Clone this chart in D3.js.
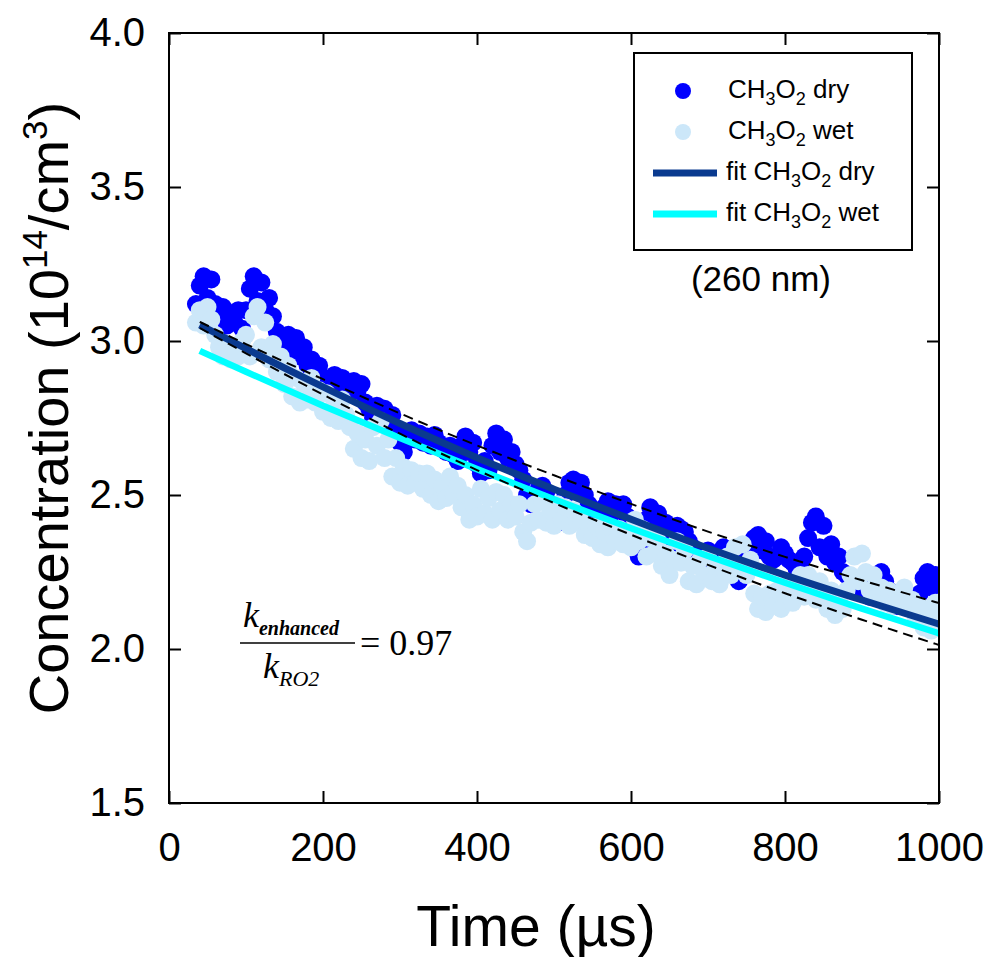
<!DOCTYPE html>
<html>
<head>
<meta charset="utf-8">
<script src="https://cdn.jsdelivr.net/npm/d3@7"></script>
<style>
  html, body { margin: 0; padding: 0; background: #ffffff; }
  svg { display: block; }
</style>
</head>
<body>
<svg id="chart" width="985" height="957"></svg>
<script>
// ---------------- DATA ----------------
const timeUs = [35,40,45,50,55,60,65,70,75,80,85,90,95,100,105,110,115,120,125,130,
  135,140,145,150,155,160,165,170,175,180,185,190,195,200,205,210,215,220,225,230,
  235,240,245,250,255,260,265,270,275,280,285,290,295,300,305,310,315,320,325,330,
  335,340,345,350,355,360,365,370,375,380,385,390,395,400,405,410,415,420,425,430,
  435,440,445,450,455,460,465,470,475,480,485,490,495,500,505,510,515,520,525,530,
  535,540,545,550,555,560,565,570,575,580,585,590,595,600,605,610,615,620,625,630,
  635,640,645,650,655,660,665,670,675,680,685,690,695,700,705,710,715,720,725,730,
  735,740,745,750,755,760,765,770,775,780,785,790,795,800,805,810,815,820,825,830,
  835,840,845,850,855,860,865,870,875,880,885,890,895,900,905,910,915,920,925,930,
  935,940,945,950,955,960,965,970,975,980,985,990,995,1000];

const dryConc = [3.12,3.18,3.21,3.14,3.20,3.12,3.08,3.11,3.05,3.09,
  3.06,3.10,3.04,3.10,3.17,3.21,3.13,3.19,3.10,3.14,
  3.08,3.03,2.99,2.96,3.02,2.97,3.01,2.95,2.98,2.92,
  2.94,2.90,2.92,2.88,2.86,2.88,2.89,2.85,2.88,2.84,
  2.83,2.87,2.84,2.86,2.80,2.78,2.75,2.79,2.76,2.78,
  2.74,2.76,2.71,2.67,2.64,2.68,2.71,2.68,2.70,2.67,
  2.69,2.66,2.695,2.67,2.65,2.64,2.66,2.63,2.61,2.66,
  2.69,2.64,2.67,2.60,2.57,2.61,2.58,2.66,2.70,2.64,
  2.68,2.62,2.64,2.60,2.58,2.55,2.50,2.47,2.50,2.52,
  2.53,2.51,2.47,2.43,2.41,2.44,2.50,2.54,2.55,2.52,
  2.54,2.50,2.47,2.45,2.44,2.44,2.46,2.48,2.44,2.47,
  2.45,2.47,2.43,2.38,2.33,2.30,2.33,2.42,2.46,2.40,
  2.44,2.37,2.41,2.33,2.36,2.40,2.39,2.38,2.35,2.33,
  2.30,2.27,2.31,2.32,2.30,2.29,2.31,2.33,2.30,2.28,
  2.24,2.22,2.27,2.30,2.33,2.36,2.37,2.32,2.35,2.30,
  2.29,2.30,2.33,2.31,2.29,2.28,2.26,2.27,2.30,2.36,
  2.41,2.43,2.33,2.40,2.30,2.34,2.28,2.30,2.25,2.24,
  2.22,2.20,2.21,2.18,2.21,2.17,2.18,2.20,2.25,2.22,
  2.19,2.16,2.14,2.15,2.16,2.17,2.15,2.14,2.18,2.23,
  2.25,2.20,2.24,2.21];

const wetConc = [3.06,3.10,3.05,3.11,3.07,3.02,2.98,2.95,2.99,2.94,
  2.98,2.95,3.00,3.02,2.95,3.08,3.11,2.98,3.06,2.94,
  2.99,2.90,2.95,2.86,2.92,2.82,2.88,2.80,2.86,2.81,
  2.88,2.80,2.84,2.77,2.83,2.75,2.80,2.74,2.81,2.76,
  2.72,2.65,2.70,2.62,2.68,2.61,2.72,2.66,2.74,2.62,
  2.68,2.56,2.62,2.54,2.59,2.53,2.58,2.54,2.57,2.52,
  2.57,2.50,2.55,2.48,2.53,2.49,2.56,2.50,2.53,2.46,
  2.50,2.42,2.47,2.43,2.52,2.44,2.49,2.42,2.51,2.45,
  2.50,2.42,2.47,2.43,2.47,2.38,2.35,2.41,2.47,2.42,
  2.48,2.41,2.45,2.40,2.47,2.42,2.46,2.40,2.45,2.41,
  2.42,2.37,2.40,2.36,2.40,2.34,2.38,2.33,2.39,2.35,
  2.39,2.34,2.37,2.33,2.42,2.35,2.39,2.30,2.36,2.31,
  2.35,2.27,2.31,2.24,2.29,2.35,2.28,2.32,2.22,2.27,
  2.21,2.29,2.24,2.30,2.22,2.27,2.21,2.26,2.30,2.24,
  2.33,2.27,2.34,2.24,2.29,2.18,2.13,2.17,2.12,2.18,
  2.14,2.19,2.13,2.18,2.21,2.15,2.19,2.24,2.17,2.24,
  2.20,2.16,2.22,2.17,2.13,2.19,2.11,2.16,2.13,2.19,
  2.24,2.30,2.22,2.31,2.25,2.19,2.24,2.17,2.20,2.15,
  2.19,2.14,2.18,2.15,2.20,2.14,2.16,2.10,2.14,2.07,
  2.12,2.06,2.15,2.10];

const fitTime = [40,100,200,300,400,500,600,700,800,900,1000];
const fitDry = [3.052,2.975,2.851,2.732,2.621,2.519,2.421,2.327,2.240,2.159,2.081];
const fitWet = [2.968,2.900,2.790,2.685,2.584,2.486,2.392,2.302,2.215,2.131,2.051];
const bandUpper = [3.062,2.990,2.876,2.765,2.661,2.564,2.471,2.381,2.299,2.223,2.149];
const bandLower = [3.042,2.960,2.826,2.699,2.581,2.474,2.371,2.273,2.181,2.095,2.013];

const xTicks = [0,200,400,600,800,1000];
const yTicks = [1.5,2.0,2.5,3.0,3.5,4.0];
const legendItems = [
  {pre:"", label:"dry", kind:"dot", color:"#0000FF"},
  {pre:"", label:"wet", kind:"dot", color:"#CCE7F9"},
  {pre:"fit ", label:"dry", kind:"line", color:"#0A3A8F"},
  {pre:"fit ", label:"wet", kind:"line", color:"#00FFFF"}
];

// ---------------- CHART ----------------
const svg = d3.select("#chart");
const M = {left:169, right:939, top:33, bottom:803};
const x = d3.scaleLinear().domain([0,1000]).range([M.left, M.right]);
const y = d3.scaleLinear().domain([1.5,4.0]).range([M.bottom, M.top]);
const FONT = "Arial, 'Liberation Sans', Helvetica, sans-serif";
const SERIF = "'Times New Roman', 'Liberation Serif', serif";

const plot = svg.append("g");
plot.append("defs").append("clipPath").attr("id","clip")
  .append("rect").attr("x",M.left).attr("y",M.top)
  .attr("width",M.right-M.left).attr("height",M.bottom-M.top);
const data = plot.append("g").attr("clip-path","url(#clip)");

const R = 9;
data.append("g").selectAll("circle").data(timeUs.map((t,i)=>[t,dryConc[i]]))
  .join("circle").attr("cx",d=>x(d[0])).attr("cy",d=>y(d[1])).attr("r",R)
  .attr("fill","#0000FF");
data.append("g").selectAll("circle").data(timeUs.map((t,i)=>[t,wetConc[i]]))
  .join("circle").attr("cx",d=>x(d[0])).attr("cy",d=>y(d[1])).attr("r",R)
  .attr("fill","#CCE7F9");

const line = d3.line().x(d=>x(d[0])).y(d=>y(d[1])).curve(d3.curveMonotoneX);
const pairs = arr => fitTime.map((t,i)=>[t,arr[i]]);
data.append("path").attr("d",line(pairs(fitWet))).attr("fill","none")
  .attr("stroke","#00FFFF").attr("stroke-width",6.5);
data.append("path").attr("d",line(pairs(fitDry))).attr("fill","none")
  .attr("stroke","#0A3A8F").attr("stroke-width",7);
[bandUpper, bandLower].forEach(b=>{
  data.append("path").attr("d",line(pairs(b))).attr("fill","none")
    .attr("stroke","#000").attr("stroke-width",2).attr("stroke-dasharray","10,6");
});

// axes
const axB = d3.axisBottom(x).tickValues(xTicks).tickSize(-12).tickPadding(30).tickFormat(d3.format("d"));
const axT = d3.axisTop(x).tickValues(xTicks).tickSize(-12).tickFormat("");
const axL = d3.axisLeft(y).tickValues(yTicks).tickSize(-12).tickPadding(24).tickFormat(d3.format(".1f"));
const axR = d3.axisRight(y).tickValues(yTicks).tickSize(-12).tickFormat("");
function styleAxis(g){
  g.select(".domain").remove();
  g.selectAll(".tick line").attr("stroke","#000").attr("stroke-width",2);
  g.selectAll(".tick text").attr("font-family",FONT).attr("font-size",40).attr("fill","#000");
}
svg.append("g").attr("transform",`translate(0,${M.bottom})`).call(axB).call(styleAxis);
svg.append("g").attr("transform",`translate(0,${M.top})`).call(axT).call(styleAxis);
svg.append("g").attr("transform",`translate(${M.left},0)`).call(axL).call(styleAxis);
svg.append("g").attr("transform",`translate(${M.right},0)`).call(axR).call(styleAxis);
svg.append("rect").attr("x",M.left).attr("y",M.top).attr("width",M.right-M.left)
  .attr("height",M.bottom-M.top).attr("fill","none").attr("stroke","#000").attr("stroke-width",2);

// axis titles
svg.append("text").attr("x",536).attr("y",946).attr("text-anchor","middle")
  .attr("font-family",FONT).attr("font-size",57).text("Time (\u00B5s)");
const yl = svg.append("text").attr("transform","translate(68,408) rotate(-90)")
  .attr("text-anchor","middle").attr("font-family",FONT).attr("font-size",56);
yl.append("tspan").text("Concentration (10");
yl.append("tspan").attr("dy",-21).attr("font-size",35).text("14");
yl.append("tspan").attr("dy",21).text("/cm");
yl.append("tspan").attr("dy",-21).attr("font-size",35).text("3");
yl.append("tspan").attr("dy",21).text(")");

// legend
const lg = svg.append("g");
lg.append("rect").attr("x",634).attr("y",53).attr("width",278).attr("height",197)
  .attr("fill","#fff").attr("stroke","#000").attr("stroke-width",2);
const rowY = [91,132,173,214];
legendItems.forEach((it,i)=>{
  const cy = rowY[i];
  if(it.kind==="dot"){
    lg.append("circle").attr("cx",683).attr("cy",cy).attr("r",8).attr("fill",it.color);
  } else {
    lg.append("line").attr("x1",653).attr("x2",717).attr("y1",cy).attr("y2",cy)
      .attr("stroke",it.color).attr("stroke-width",7);
  }
  const t = lg.append("text").attr("x",it.kind==="dot"?728:726).attr("y",cy+7)
    .attr("font-family",FONT).attr("font-size",26).attr("fill","#000");
  t.append("tspan").text(it.pre+"CH");
  t.append("tspan").attr("dy",7).attr("font-size",18).text("3");
  t.append("tspan").attr("dy",-7).text("O");
  t.append("tspan").attr("dy",7).attr("font-size",18).text("2");
  t.append("tspan").attr("dy",-7).text(" "+it.label);
});
svg.append("text").attr("x",761).attr("y",291).attr("text-anchor","middle")
  .attr("font-family",FONT).attr("font-size",35).text("(260 nm)");

// annotation
const an = svg.append("g").attr("font-family",SERIF).attr("fill","#000");
const num = an.append("text").attr("x",243).attr("y",627).attr("font-size",36).attr("font-style","italic");
num.append("tspan").text("k");
num.append("tspan").attr("dy",8).attr("font-size",20).attr("font-weight","bold").text("enhanced");
an.append("line").attr("x1",240).attr("x2",355).attr("y1",643).attr("y2",643)
  .attr("stroke","#000").attr("stroke-width",1.5);
const den = an.append("text").attr("x",263).attr("y",678).attr("font-size",36).attr("font-style","italic");
den.append("tspan").text("k");
den.append("tspan").attr("dy",8).attr("font-size",22).text("RO2");
an.append("text").attr("x",360).attr("y",655).attr("font-size",36).text("= 0.97");
</script>
</body>
</html>
